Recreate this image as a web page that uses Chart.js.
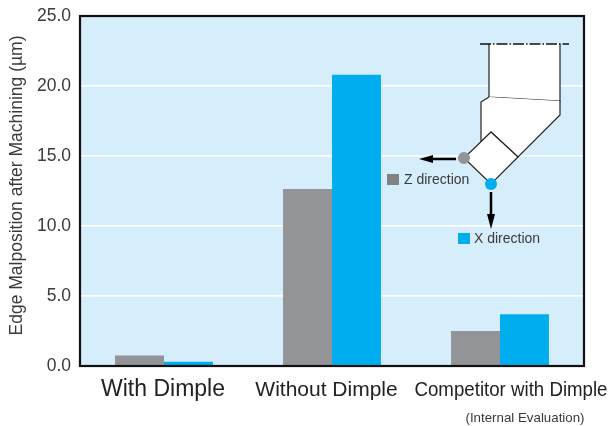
<!DOCTYPE html>
<html>
<head>
<meta charset="utf-8">
<style>
  html, body { margin: 0; padding: 0; background: #fff; }
  canvas { display: block; }
</style>
<script src="https://cdn.jsdelivr.net/npm/chart.js@4"></script>
</head>
<body>
<canvas id="chart" width="610" height="426"></canvas>
<script>
const categories = ['With Dimple', 'Without Dimple', 'Competitor with Dimple'];
const zDirection = [0.75, 12.65, 2.5];
const xDirection = [0.3, 20.8, 3.7];
const yMax = 25;
const yStep = 5;

// The category labels are set by hand in the reference: off centre, different sizes
const labelShift = [-1, -5.5, 11];
const labelSize = [23, 21, 20];

const FONT = '"Liberation Sans", Arial, sans-serif';
const TEXT = '#3a3a3a';
const GREY = '#929497';
const BLUE = '#00aeef';

function path(ctx, pts) {
	ctx.beginPath();
	pts.forEach((p, i) => (i ? ctx.lineTo(p[0], p[1]) : ctx.moveTo(p[0], p[1])));
}

function poly(ctx, pts, fill) {
	path(ctx, pts);
	ctx.closePath();
	ctx.fillStyle = fill;
	ctx.fill();
}

// Panel background behind the grid
const panel = {
	id: 'panel',
	beforeDraw(chart) {
		const { ctx, chartArea: a } = chart;
		ctx.save();
		ctx.fillStyle = '#d6eefb';
		ctx.fillRect(a.left, a.top, a.width, a.height);
		ctx.restore();
	},
};

// Frame, axis texts and the tool sketch on top of the bars
const overlay = {
	id: 'overlay',
	afterDraw(chart) {
		const { ctx, chartArea: a } = chart;
		ctx.save();

		ctx.strokeStyle = '#111';
		ctx.lineWidth = 2.2;
		ctx.strokeRect(a.left, a.top, a.width, a.height);

		ctx.textAlign = 'center';
		ctx.textBaseline = 'middle';

		// y axis title
		ctx.save();
		ctx.translate(17, 185.5);
		ctx.rotate(-Math.PI / 2);
		ctx.fillStyle = TEXT;
		ctx.font = '17.5px ' + FONT;
		ctx.fillText('Edge Malposition after Machining (µm)', 0, 0, 305);
		ctx.restore();

		ctx.fillStyle = '#222';
		categories.forEach((c, i) => {
			ctx.font = labelSize[i] + 'px ' + FONT;
			ctx.fillText(c, chart.scales.x.getPixelForTick(i) + labelShift[i], 390, 193);
		});
		ctx.fillStyle = TEXT;
		ctx.font = '13.3px ' + FONT;
		ctx.fillText('(Internal Evaluation)', 525, 418);

		// Tool sketch
		ctx.strokeStyle = '#222';
		ctx.lineWidth = 1.2;
		poly(ctx, [[489, 44], [560, 44], [560, 101], [489, 97]], '#fff');
		path(ctx, [[489, 44], [489, 97], [560, 101], [560, 44]]);
		ctx.stroke();
		const body = [[489, 97], [481, 102], [481, 142], [491, 132], [518, 157], [560, 115], [560, 101]];
		poly(ctx, body, '#fff');
		path(ctx, body);
		ctx.stroke();
		const tip = [[491, 132], [518, 157], [491, 184], [464, 158]];
		poly(ctx, tip, '#fff');
		path(ctx, tip);
		ctx.closePath();
		ctx.stroke();

		ctx.strokeStyle = '#111';
		ctx.lineWidth = 1.5;
		ctx.setLineDash([11, 2, 1.5, 2]);
		path(ctx, [[480, 44], [569, 44]]);
		ctx.stroke();
		ctx.setLineDash([]);

		// Direction arrows
		ctx.strokeStyle = '#000';
		ctx.lineWidth = 2.5;
		ctx.beginPath();
		ctx.moveTo(456, 159);
		ctx.lineTo(430, 159);
		ctx.moveTo(491, 192);
		ctx.lineTo(491, 216);
		ctx.stroke();
		poly(ctx, [[419, 159], [433, 155], [433, 163]], '#000');
		poly(ctx, [[491, 229], [487, 214], [495, 214]], '#000');

		ctx.fillStyle = GREY;
		ctx.beginPath();
		ctx.arc(464, 158, 6, 0, Math.PI * 2);
		ctx.fill();
		ctx.fillStyle = BLUE;
		ctx.beginPath();
		ctx.arc(491, 184, 6, 0, Math.PI * 2);
		ctx.fill();

		// Key
		ctx.fillStyle = '#808285';
		ctx.fillRect(387, 174, 12, 11);
		ctx.fillStyle = BLUE;
		ctx.fillRect(458, 233, 12, 11);
		ctx.fillStyle = TEXT;
		ctx.font = '14px ' + FONT;
		ctx.textAlign = 'left';
		ctx.fillText('Z direction', 404, 180);
		ctx.fillText('X direction', 474, 239);

		ctx.restore();
	},
};

new Chart(document.getElementById('chart').getContext('2d'), {
	type: 'bar',
	data: {
		labels: categories,
		datasets: [
			{ label: 'Z direction', data: zDirection, backgroundColor: GREY },
			{ label: 'X direction', data: xDirection, backgroundColor: BLUE },
		],
	},
	options: {
		responsive: false,
		animation: false,
		categoryPercentage: 0.583,
		barPercentage: 1,
		layout: { padding: { top: 16, right: 26 } },
		plugins: { legend: { display: false }, tooltip: { enabled: false } },
		scales: {
			x: {
				grid: { display: false },
				border: { display: false },
				ticks: { display: false },
				afterFit(scale) {
					scale.height = 60;
				},
			},
			y: {
				min: 0,
				max: yMax,
				grid: { color: '#ffffff', lineWidth: 1.5, drawTicks: false },
				border: { display: false },
				ticks: {
					stepSize: yStep,
					padding: 9,
					color: TEXT,
					font: { family: FONT, size: 17.5 },
					callback: (v) => v.toFixed(1),
				},
				afterFit(scale) {
					// the top tick label may stick out above the plot
					scale.width = 80;
					scale.paddingTop = 0;
					scale.paddingBottom = 0;
				},
			},
		},
	},
	plugins: [panel, overlay],
});
</script>
</body>
</html>
